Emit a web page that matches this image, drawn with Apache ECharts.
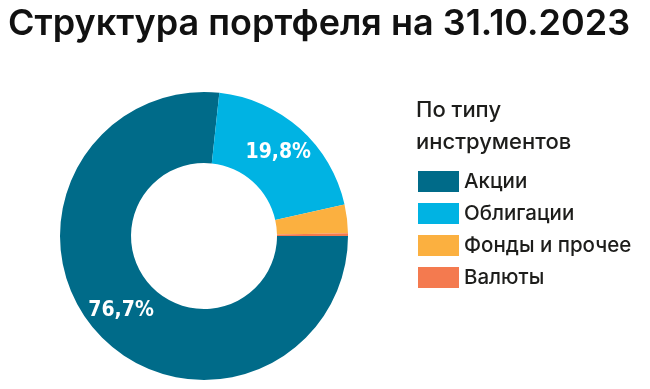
<!DOCTYPE html>
<html>
<head>
<meta charset="utf-8">
<script src="https://cdn.jsdelivr.net/npm/echarts@6/dist/echarts.min.js"></script>
<style>
html,body{margin:0;padding:0;background:#fff;}
#chart{width:650px;height:389px;}
</style>
</head>
<body>
<div id="chart"></div>
<script>
const titleText = 'Структура портфеля на 31.10.2023';
const legendTitle = 'По типу\nинструментов';
const categories = ['Акции', 'Облигации', 'Фонды и прочее', 'Валюты'];
const values = [76.7, 19.8, 3.2, 0.3];
const showLabel = [true, true, false, false];
const colors = ['#006b89', '#00b3e3', '#fbb040', '#f47a4f'];

const chart = echarts.init(document.getElementById('chart'), null, {renderer: 'canvas'});
chart.setOption({
  animation: false,
  title: [
    {
      text: titleText,
      left: 3, top: 1,
      textStyle: {fontFamily: 'Inter', fontWeight: 600, fontSize: 36, color: '#111'}
    },
    {
      text: legendTitle,
      left: 411, top: 89,
      textStyle: {fontFamily: 'Inter', fontWeight: 500, fontSize: 22, lineHeight: 32, color: '#1d1d1b'}
    }
  ],
  legend: {
    orient: 'vertical',
    left: 413, top: 166,
    itemWidth: 41, itemHeight: 21, itemGap: 11,
    icon: 'rect',
    selectedMode: false,
    textStyle: {fontFamily: 'Inter', fontWeight: 500, fontSize: 20.5, color: '#1d1d1b', padding: [0,0,0,0]},
    data: categories
  },
  series: [{
    type: 'pie',
    center: [204, 236],
    radius: [73, 144],
    startAngle: 0,
    clockwise: true,
    silent: true,
    label: {
      position: 'inside',
      color: '#fff',
      fontFamily: '"DejaVu Sans Condensed", "Roboto", sans-serif',
      fontWeight: 'bold',
      fontSize: 21,
      formatter: p => String(p.value).replace('.', ',') + '%'
    },
    labelLine: {show: false},
    emphasis: {disabled: true},
    data: categories.map((c, i) => ({
      name: c, value: values[i],
      itemStyle: {color: colors[i]},
      label: {show: showLabel[i]}
    }))
  }]
});
</script>
</body>
</html>
